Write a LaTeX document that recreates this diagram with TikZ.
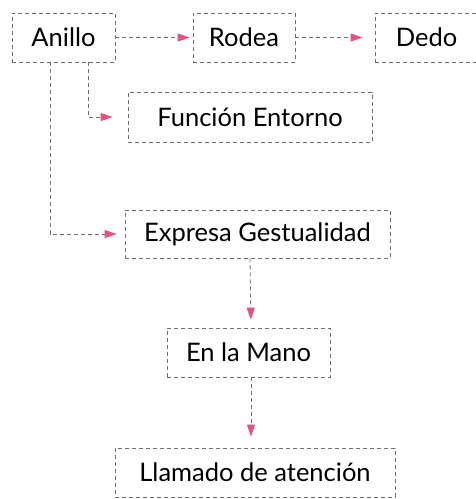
\documentclass[tikz,border=0pt]{standalone}
\usepackage{fontspec}
\setmainfont{Lato}
\usetikzlibrary{arrows.meta}
\definecolor{boxgray}{HTML}{6E6E6E}
\definecolor{tippink}{HTML}{E8507E}
\tikzset{
  box/.style={draw=boxgray, line width=0.8pt, dash pattern=on 4pt off 3pt,
    minimum height=49pt, inner sep=0pt, font=\fontsize{25.5}{28}\selectfont, text=black},
  conn/.style={draw=boxgray, line width=0.8pt, dash pattern=on 4pt off 3pt,
    -{Triangle[length=12pt,width=8pt,color=tippink]}}
}
\begin{document}
\begin{tikzpicture}[x=1pt,y=-1pt]
\clip (0,0) rectangle (476,499);
\fill[white] (0,0) rectangle (476,499);
\node[box, minimum width=103pt] (anillo) at (63.5,37.5) {Anillo};
\node[box, minimum width=102pt] (rodea) at (244,37.5) {Rodea};
\node[box, minimum width=103pt] (dedo) at (426.5,37.5) {Dedo};
\node[box, minimum width=244pt, minimum height=50pt] (func) at (250,117) {Función Entorno};
\node[box, minimum width=265pt, minimum height=48pt] (expr) at (257.5,234) {Expresa Gestualidad};
\node[box, minimum width=163pt] (mano) at (248.5,352.5) {En la Mano};
\node[box, minimum width=280pt] (llam) at (255,472.5) {Llamado de atención};
\draw[conn, shorten >=3pt] (anillo) -- (rodea);
\draw[conn, shorten >=12pt] (rodea) -- (dedo);
\draw[conn, shorten >=15pt] ([xshift=24.5pt]anillo.south) |- (func.west);
\draw[conn, shorten >=8pt] ([xshift=-13.5pt]anillo.south) |- (expr.west);
\draw[conn, shorten >=8pt] ([xshift=-7.5pt]expr.south) -- ([xshift=2.5pt]mano.north);
\draw[conn, shorten >=11pt] ([xshift=2.5pt]mano.south) -- ([xshift=-4pt]llam.north);
\end{tikzpicture}
\end{document}
